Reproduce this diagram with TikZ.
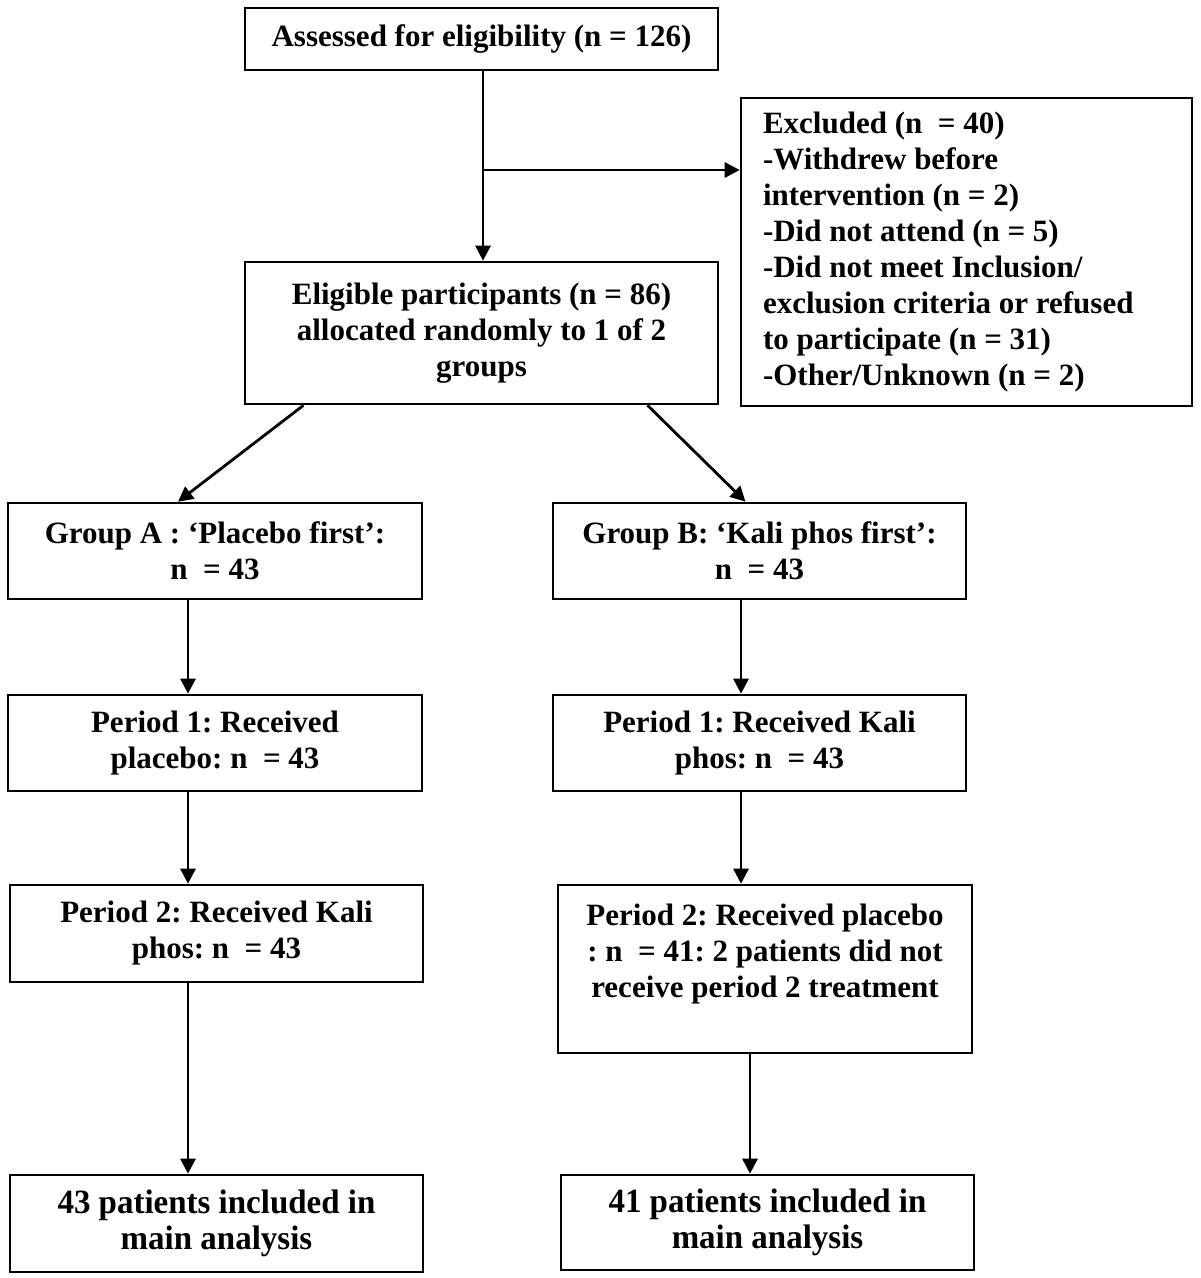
\documentclass[tikz,border=0pt]{standalone}
\usepackage{fontspec}
\setmainfont{Liberation Serif}
\usetikzlibrary{arrows.meta,calc}
\frenchspacing

\begin{document}
\begin{tikzpicture}[x=0.5pt, y=-0.5pt,
    box/.style={draw, line width=1.3pt, align=center, inner sep=0pt,
        font=\fontsize{15.5}{18}\selectfont\bfseries},
    finbox/.style={box, font=\fontsize{17}{18}\selectfont\bfseries\addfontfeature{FakeStretch=0.97}},
    arr/.style={line width=1.4pt, -{Triangle[length=7.5pt, width=7.5pt]}}]
    \useasboundingbox (0,0) rectangle (1200,1278);

    % Top of the chart
    \node[box, minimum width=236.5pt, minimum height=31pt] (assess) at (481.5,39)
        {Assessed for eligibility (n = 126)};
    \node[box, minimum width=236.5pt, minimum height=71pt] (elig) at (481.5,333)
        {Eligible participants (n = 86)\\allocated randomly to 1 of 2\\groups};
    \node[box, align=flush left, text width=203.5pt, inner xsep=11pt, minimum height=154pt] (excl) at (966.5,252)
        {Excluded (n~ = 40)\\-Withdrew before\\intervention (n = 2)\\-Did not attend (n = 5)\\-Did not meet Inclusion/\\exclusion criteria or refused\\to participate (n = 31)\\-Other/Unknown (n = 2)};

    % Two arms
    \node[box, minimum width=207pt, minimum height=48pt] (grpA) at (215,551)
        {Group A : `Placebo first':\\n~ = 43};
    \node[box, minimum width=206.5pt, minimum height=48pt] (grpB) at (759.5,551)
        {Group B: `Kali phos first':\\n~ = 43};
    \node[box, minimum width=207pt, minimum height=48pt] (p1A) at (215,743)
        {Period 1: Received\\placebo: n~ = 43};
    \node[box, minimum width=206.5pt, minimum height=48pt] (p1B) at (759.5,743)
        {Period 1: Received Kali\\phos: n~ = 43};
    \node[box, minimum width=206.5pt, minimum height=48.5pt] (p2A) at (216.5,933.5)
        {Period 2: Received Kali\\phos: n~ = 43};
    \node[box, minimum width=207pt, minimum height=84pt] (p2B) at (765,969)
        {Period 2: Received placebo\\: n~ = 41: 2 patients did not\\receive period 2 treatment\\~};
    \node[finbox, minimum width=206.5pt, minimum height=48.5pt] (finA) at (216.5,1223.5)
        {43 patients included in\\main analysis};
    \node[finbox, minimum width=206.5pt, minimum height=47.5pt] (finB) at (767.5,1222.5)
        {41 patients included in\\main analysis};

    % Columns for the arrows
    \coordinate (branch) at (483,170);
    \coordinate (colA) at (188,0);
    \coordinate (colB) at (741,0);
    \coordinate (colB2) at (750,0);

    \draw[arr] (assess.south -| branch) -- (elig.north -| branch);
    \draw[arr] (branch) -- (branch -| excl.west);
    \draw[arr] ([xshift=-89pt]elig.south) -- ([xshift=-18.5pt]grpA.north);
    \draw[arr] ([xshift=83pt]elig.south) -- ([xshift=-7pt]grpB.north);

    \draw[arr] (grpA.south -| colA) -- (p1A.north -| colA);
    \draw[arr] (p1A.south -| colA) -- (p2A.north -| colA);
    \draw[arr] (p2A.south -| colA) -- (finA.north -| colA);

    \draw[arr] (grpB.south -| colB) -- (p1B.north -| colB);
    \draw[arr] (p1B.south -| colB) -- (p2B.north -| colB);
    \draw[arr] (p2B.south -| colB2) -- (finB.north -| colB2);
\end{tikzpicture}
\end{document}
